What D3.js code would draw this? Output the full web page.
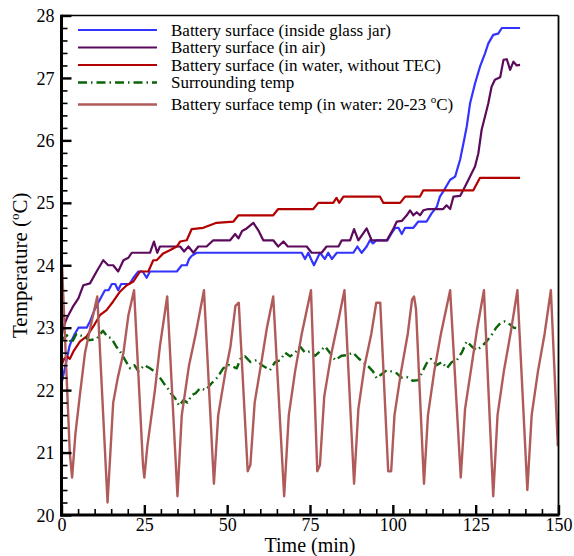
<!DOCTYPE html>
<html><head><meta charset="utf-8">
<script src="https://cdn.jsdelivr.net/npm/d3@7"></script>
<style>
body{margin:0;background:#fff;}
text{font-family:"Liberation Serif","Times New Roman",serif;fill:#000;}
</style></head>
<body><svg id="c" width="574" height="556"></svg>
<script>
// ---- data ----
const xTicks = [0,25,50,75,100,125,150];
const yTicks = [20,21,22,23,24,25,26,27,28];
const seriesNames = [
  "Battery surface (inside glass jar)",
  "Battery surface (in air)",
  "Battery surface (in water, without TEC)",
  "Surrounding temp",
  "Battery surface temp (in water: 20-23 \u00B0C)"
];
const jarData = [[0,22.1],[0.8,22.3],[1.6,22.5],[2.4,22.7],[3.1,22.8],[4,22.9],[5.1,23.0],[7.6,23.0],[8.6,23.1],[10.1,23.3],[11.6,23.45],[13.1,23.6],[14.2,23.6],[15.2,23.7],[16.2,23.7],[17.1,23.6],[18,23.7],[19.2,23.7],[20.5,23.7],[21.7,23.8],[23.2,23.9],[24.5,23.9],[25.7,23.8],[26.7,23.9],[27.7,23.9],[34.8,23.9],[36.3,24.0],[37.8,24.0],[38.5,24.1],[39.3,24.15],[40.8,24.2],[72.5,24.2],[73.5,24.1],[74.5,24.2],[75.3,24.1],[76.2,24.0],[78,24.2],[79.5,24.1],[80.5,24.2],[81.6,24.1],[83.1,24.2],[88.1,24.2],[89.3,24.3],[90.6,24.2],[92.1,24.3],[93.1,24.4],[94,24.35],[95.1,24.4],[98.4,24.4],[99.5,24.5],[100.7,24.6],[101.7,24.6],[102.7,24.5],[103.7,24.6],[106.2,24.6],[107.7,24.7],[110.2,24.7],[111.7,24.83],[113.3,24.94],[114.2,25.1],[115.2,25.18],[117.3,25.37],[118.8,25.42],[120.3,25.69],[121.3,25.95],[122.3,26.22],[123.3,26.59],[124.8,26.91],[126.3,27.18],[127.8,27.39],[128.8,27.55],[130.3,27.69],[131.8,27.71],[132.9,27.8],[138.4,27.8]];
const airData = [[0,22.85],[0.5,23.0],[1.6,23.15],[3.6,23.35],[5.1,23.47],[6.6,23.68],[8.6,23.71],[10.6,23.9],[12.6,24.08],[14.1,24.0],[15.6,24.0],[17.1,23.9],[18.7,24.08],[20.2,24.12],[21.2,24.2],[26.7,24.2],[27.9,24.38],[28.9,24.2],[29.7,24.3],[35.8,24.3],[37,24.22],[38.3,24.3],[39.8,24.2],[41.3,24.3],[43.8,24.3],[45.8,24.4],[50.9,24.4],[52.4,24.5],[53.4,24.43],[54.5,24.55],[55.9,24.59],[57.9,24.68],[59.4,24.56],[60.9,24.4],[63.9,24.4],[65.4,24.3],[67,24.38],[68.3,24.3],[74,24.3],[75.5,24.2],[78.5,24.2],[80,24.3],[83.6,24.3],[84.6,24.4],[87.1,24.4],[88.3,24.58],[89.6,24.4],[92.1,24.59],[93.6,24.4],[98.2,24.4],[100.2,24.59],[101.2,24.7],[102.7,24.71],[104.2,24.8],[105.2,24.88],[106.2,24.8],[107.2,24.85],[108.2,24.8],[109.2,24.88],[110.7,24.9],[115.2,24.9],[116.2,24.96],[117.3,24.9],[118.3,25.1],[120.3,25.11],[121.8,25.26],[123.3,25.42],[124.8,25.58],[125.8,25.79],[126.8,26.17],[127.8,26.38],[128.8,26.59],[129.8,26.86],[130.8,26.97],[132.4,27.01],[133.4,27.29],[134.4,27.3],[135.4,27.13],[136.4,27.26],[137.4,27.2],[138.4,27.21]];
const waterNoTecData = [[0,22.4],[0.8,22.5],[1.6,22.54],[2.5,22.5],[3.6,22.62],[5.6,22.78],[7.6,22.86],[9.6,23.02],[11.6,23.2],[13.6,23.28],[15.6,23.42],[17.7,23.58],[19.7,23.68],[21.7,23.74],[23.7,23.9],[26.2,23.9],[27.7,24.08],[28.7,24.08],[30.7,24.19],[32.7,24.24],[34.8,24.3],[35.8,24.38],[37.8,24.4],[39.3,24.58],[42.8,24.6],[46.8,24.68],[51.9,24.7],[53.4,24.8],[63.9,24.8],[65.4,24.9],[76,24.9],[77.5,25.0],[82,25.0],[83,25.08],[83.8,25.0],[85.1,25.1],[96.1,25.1],[97.1,25.0],[102.2,25.0],[103.7,25.1],[108.2,25.1],[109.2,25.2],[124.3,25.2],[126.3,25.4],[138.4,25.4]];
const surroundData = [[0,22.8],[1.6,22.88],[3,22.75],[4.5,22.9],[6.6,22.86],[8.5,22.8],[10.6,22.82],[12.5,22.95],[14,22.85],[15.1,22.83],[16.5,22.7],[17.7,22.62],[19,22.5],[20.7,22.35],[22,22.4],[23.2,22.3],[25,22.4],[26.7,22.35],[28,22.3],[29.7,22.2],[31,22.1],[31.8,22.05],[33,21.95],[34.3,21.87],[35.5,21.75],[36.8,21.84],[38,21.8],[39.3,21.92],[40.5,21.95],[41.8,22.03],[43.5,22.0],[45.3,22.11],[47,22.2],[48.8,22.35],[50.5,22.4],[52.9,22.35],[54,22.5],[55.4,22.54],[57,22.45],[58.9,22.48],[60.5,22.4],[62.9,22.32],[64.5,22.45],[66,22.48],[67.5,22.6],[69,22.54],[70.5,22.6],[72,22.7],[73.5,22.6],[75,22.62],[76.5,22.55],[78,22.62],[79.5,22.7],[81,22.6],[82.6,22.48],[84.5,22.55],[86.1,22.56],[88,22.6],[89.6,22.51],[91,22.45],[92.6,22.38],[94,22.3],[95.1,22.19],[96.5,22.25],[98.2,22.32],[99.5,22.3],[101.2,22.27],[102.5,22.2],[104.2,22.21],[106,22.15],[107.7,22.16],[109,22.3],[110.2,22.43],[111.5,22.5],[113.2,22.4],[114.8,22.45],[116.3,22.35],[117.8,22.45],[119.3,22.48],[120.8,22.6],[122.3,22.78],[123.8,22.7],[125.3,22.64],[126.8,22.7],[128.3,22.78],[130,22.9],[131.2,23.0],[132.4,23.07],[133.8,23.1],[135.4,23.05],[136.5,23.0],[137.9,22.99]];
const waterTecData = [[0,24.2],[2.5,21.0],[3.2,20.6],[4.2,21.3],[5.5,21.9],[7.1,22.6],[9.1,23.1],[10.8,23.5],[13.9,20.2],[15.6,21.8],[17,22.2],[18.7,22.6],[20.2,23.2],[21.9,23.6],[24.6,20.8],[25.0,20.6],[25.9,21.1],[28.2,22.0],[29.7,22.7],[31.9,23.5],[35.0,20.3],[36.3,21.6],[38.5,22.4],[40.5,22.9],[43.0,23.6],[46.0,20.5],[47.3,21.6],[49.5,22.3],[51.0,22.7],[52.5,23.35],[53.5,23.4],[56.2,20.7],[57.0,20.8],[58.3,21.8],[60.5,22.5],[62.0,23.0],[63.9,23.5],[67.2,20.3],[68.6,21.6],[70.5,22.3],[72.5,22.9],[75.3,23.6],[77.2,20.7],[78.0,20.8],[79.3,21.9],[81.5,22.6],[83.5,23.1],[85.4,23.6],[88.3,20.5],[89.6,21.7],[91.5,22.4],[93.5,22.9],[95.0,23.4],[96.2,23.4],[98.6,20.7],[99.5,20.7],[100.5,21.6],[102.5,22.3],[104.5,22.9],[105.8,23.45],[106.4,23.5],[107,23.3],[109.4,20.5],[110.6,21.6],[112.5,22.3],[114.5,22.9],[117.3,23.6],[120.5,20.6],[121.8,21.7],[123.8,22.4],[125.5,23.0],[127.5,23.6],[130.3,20.3],[131.6,21.6],[133.5,22.3],[135.5,22.9],[137.6,23.6],[140.6,20.4],[141.9,21.6],[143.8,22.3],[145.8,22.9],[147.7,23.6],[149.8,21.1]];

// ---- layout ----
const L = 61.5, R = 558.5, T = 15.5, B = 515;
const svg = d3.select("#c");
const x = d3.scaleLinear().domain([0,150]).range([L,R]);
const y = d3.scaleLinear().domain([20,28]).range([B,T]);

const series = [
  {data: jarData, color:"#3333ff", w:2.2, dash:null},
  {data: airData, color:"#5c0a5c", w:2.2, dash:null},
  {data: waterNoTecData, color:"#b30000", w:2.2, dash:null},
  {data: surroundData, color:"#0a640a", w:2.4, dash:"9,4,1.5,4"},
  {data: waterTecData, color:"#b05a5a", w:2.4, dash:null}
];

const line = d3.line().x(d=>x(d[0])).y(d=>y(d[1]));
const plot = svg.append("g");
series.forEach(s=>{
  plot.append("path").datum(s.data).attr("d",line)
    .attr("fill","none").attr("stroke",s.color).attr("stroke-width",s.w)
    .attr("stroke-linejoin","round")
    .attr("stroke-dasharray",s.dash);
});

// ---- axes ----
const xMajor = d3.axisBottom(x).tickValues(xTicks).tickSize(-10).tickPadding(3).tickFormat(d3.format("d"));
const xMinor = d3.axisBottom(x).tickValues(d3.range(0,151,5).filter(v=>v%25)).tickSize(-6).tickFormat("");
const yMajor = d3.axisLeft(y).tickValues(yTicks).tickSize(-10).tickPadding(7).tickFormat(d3.format("d"));
const yMinor = d3.axisLeft(y).tickValues(d3.range(20,28.01,0.2).filter(v=>Math.abs(v-Math.round(v))>0.01)).tickSize(-6).tickFormat("");

function styleAxis(g){
  g.attr("font-family",null).attr("font-size",null);
  g.select(".domain").remove();
  g.selectAll("line").attr("stroke","#000").attr("stroke-width",1.6);
  g.selectAll("text").style("font-family","'Liberation Serif',serif").style("font-size","18px").attr("fill","#000");
}
svg.append("g").attr("transform",`translate(0,${B})`).call(xMinor).call(styleAxis);
const gx = svg.append("g").attr("transform",`translate(0,${B})`).call(xMajor).call(styleAxis);
gx.selectAll("line").attr("stroke-width",2.4);
svg.append("g").attr("transform",`translate(${L},0)`).call(yMinor).call(styleAxis);
const gy = svg.append("g").attr("transform",`translate(${L},0)`).call(yMajor).call(styleAxis);
gy.selectAll("line").attr("stroke-width",2.4);
gy.selectAll(".tick text").attr("dy","0.34em");

// frame
svg.append("line").attr("x1",L).attr("x2",R).attr("y1",T).attr("y2",T).attr("stroke","#000").attr("stroke-width",1.6);
svg.append("line").attr("x1",R).attr("x2",R).attr("y1",T).attr("y2",B).attr("stroke","#000").attr("stroke-width",1.8);
svg.append("line").attr("x1",L).attr("x2",L).attr("y1",T-0.8).attr("y2",B+1.5).attr("stroke","#000").attr("stroke-width",3);
svg.append("line").attr("x1",L-1.5).attr("x2",R+1).attr("y1",B).attr("y2",B).attr("stroke","#000").attr("stroke-width",3);

// axis titles
svg.append("text").attr("x",(L+R)/2).attr("y",552).attr("text-anchor","middle").style("font-size","20px").text("Time (min)");
const yt = svg.append("text").attr("transform",`translate(27,${(T+B)/2}) rotate(-90)`).attr("text-anchor","middle").style("font-size","21px");
yt.append("tspan").text("Temperature (");
yt.append("tspan").attr("dy",-8).style("font-size","13px").text("o");
yt.append("tspan").attr("dy",8).text("C)");

// legend
const legY = [30, 47.5, 65, 82.5, 104.5];
const lg = svg.append("g");
series.forEach((s,i)=>{
  lg.append("line").attr("x1",78).attr("x2",157).attr("y1",legY[i]).attr("y2",legY[i])
    .attr("stroke",s.color).attr("stroke-width",s.w).attr("stroke-dasharray",s.dash);
  const t = lg.append("text").attr("x",171).attr("y",legY[i]+5.5).style("font-size","17px");
  const name = seriesNames[i];
  if(name.includes("\u00B0")){
    const parts = name.split("\u00B0");
    t.append("tspan").text(parts[0]);
    t.append("tspan").attr("dy",-7).style("font-size","11px").text("o");
    t.append("tspan").attr("dy",7).text(parts[1]);
  } else t.text(name);
});
</script></body></html>
